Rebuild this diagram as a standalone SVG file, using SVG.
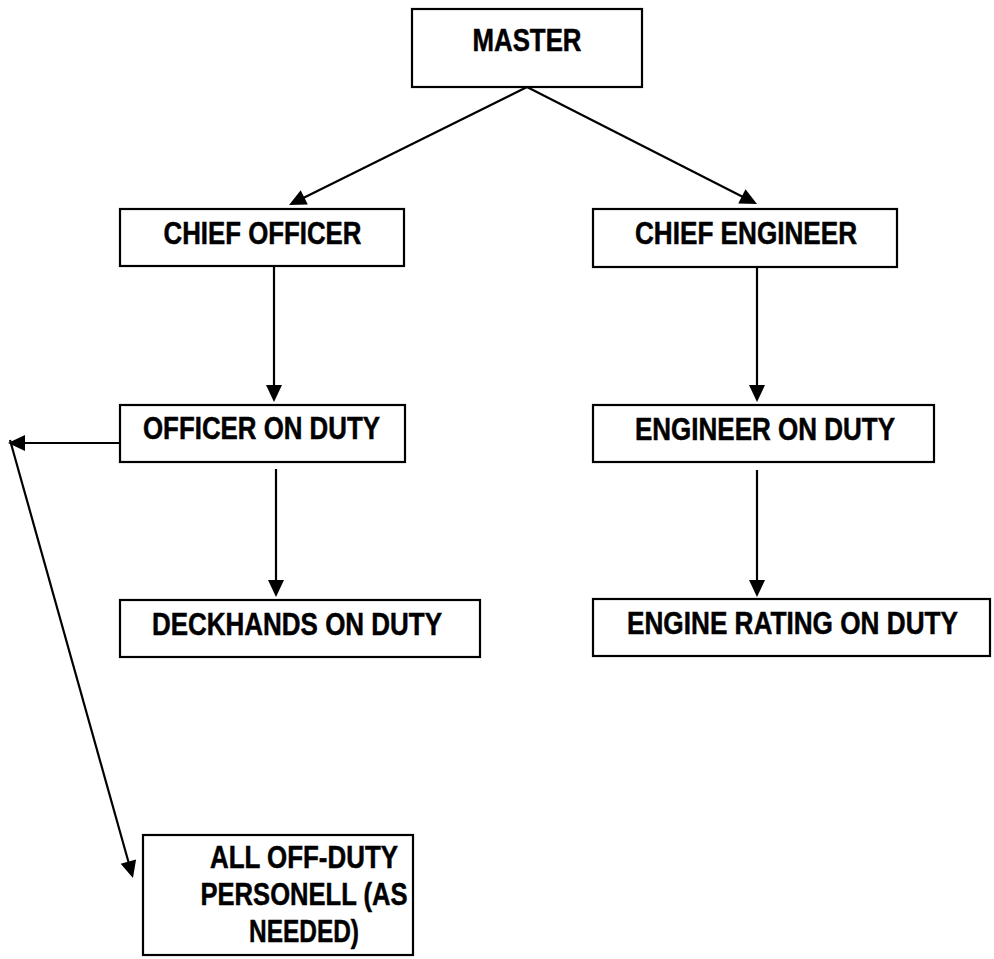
<svg xmlns="http://www.w3.org/2000/svg" width="994" height="959" viewBox="0 0 994 959">
<style>
.box{fill:#fff;stroke:#000;stroke-width:2.2}
.lbl{font-family:"Liberation Sans",Arial,sans-serif;font-weight:bold;font-size:32px;fill:#000;stroke:#000;stroke-width:0.5;text-anchor:middle}
.con{stroke:#000;stroke-width:2.2;fill:none;marker-end:url(#arr)}
</style>
<defs>
<marker id="arr" markerUnits="userSpaceOnUse" markerWidth="18" markerHeight="16" refX="9" refY="8" orient="auto" overflow="visible">
<path d="M0,0 L17,8 L0,16 Z" fill="#000"/>
</marker>
</defs>
<rect width="994" height="959" fill="#fff"/>
<g id="connectors">
<line class="con" x1="527" y1="87" x2="296.2" y2="201.4"/>
<line class="con" x1="527" y1="87" x2="749.9" y2="200.4"/>
<line class="con" x1="274" y1="267" x2="274" y2="394"/>
<line class="con" x1="757" y1="267" x2="757" y2="394"/>
<line class="con" x1="276" y1="469" x2="276" y2="589"/>
<line class="con" x1="757" y1="470" x2="757" y2="589"/>
<line class="con" x1="120" y1="443" x2="16" y2="443"/>
<line class="con" x1="10" y1="440" x2="130.8" y2="870.3"/>
</g>
<g id="master">
<rect class="box" x="412" y="9" width="230" height="78"/>
<text class="lbl" x="527" y="51" textLength="109" lengthAdjust="spacingAndGlyphs">MASTER</text>
</g>
<g id="chief-officer">
<rect class="box" x="120" y="209" width="284" height="57"/>
<text class="lbl" x="262.5" y="244" textLength="198" lengthAdjust="spacingAndGlyphs">CHIEF OFFICER</text>
</g>
<g id="chief-engineer">
<rect class="box" x="593" y="209" width="304" height="58"/>
<text class="lbl" x="746" y="244" textLength="222" lengthAdjust="spacingAndGlyphs">CHIEF ENGINEER</text>
</g>
<g id="officer-on-duty">
<rect class="box" x="120" y="405" width="285" height="57"/>
<text class="lbl" x="261.5" y="439" textLength="237" lengthAdjust="spacingAndGlyphs">OFFICER ON DUTY</text>
</g>
<g id="engineer-on-duty">
<rect class="box" x="593" y="405" width="341" height="57"/>
<text class="lbl" x="765" y="440" textLength="260" lengthAdjust="spacingAndGlyphs">ENGINEER ON DUTY</text>
</g>
<g id="deckhands-on-duty">
<rect class="box" x="120" y="600" width="360" height="57"/>
<text class="lbl" x="297" y="635" textLength="290" lengthAdjust="spacingAndGlyphs">DECKHANDS ON DUTY</text>
</g>
<g id="engine-rating-on-duty">
<rect class="box" x="593" y="599" width="397" height="57"/>
<text class="lbl" x="792.5" y="634" textLength="331" lengthAdjust="spacingAndGlyphs">ENGINE RATING ON DUTY</text>
</g>
<g id="off-duty-personell">
<rect class="box" x="143" y="835" width="270" height="120"/>
<text class="lbl" x="304" y="868" textLength="188" lengthAdjust="spacingAndGlyphs">ALL OFF-DUTY</text>
<text class="lbl" x="304" y="905" textLength="207" lengthAdjust="spacingAndGlyphs">PERSONELL (AS</text>
<text class="lbl" x="304" y="942" textLength="110" lengthAdjust="spacingAndGlyphs">NEEDED)</text>
</g>
</svg>
